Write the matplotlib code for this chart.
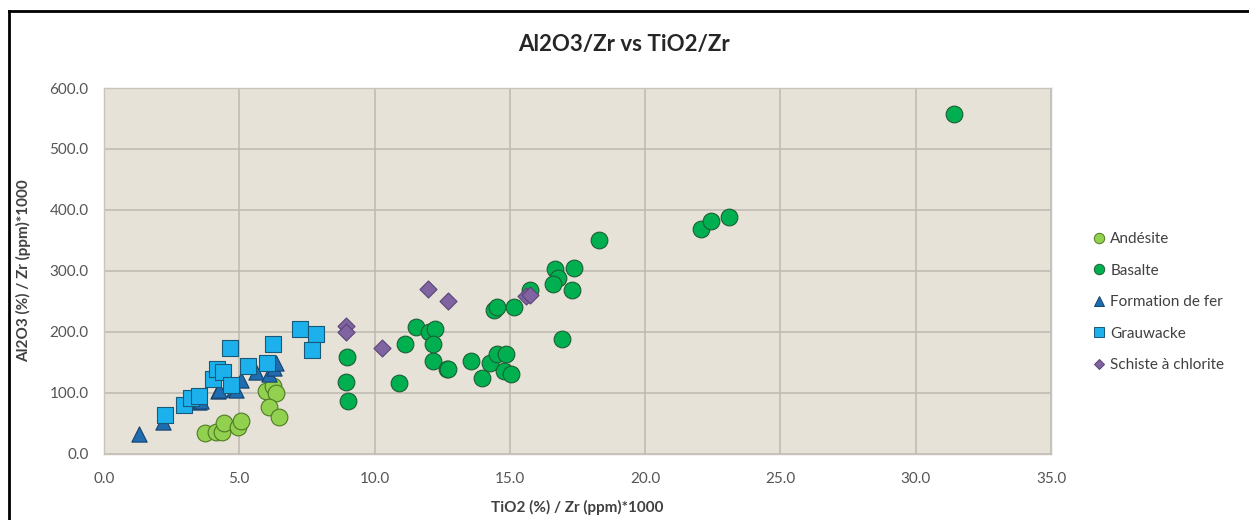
import matplotlib
matplotlib.use('Agg')
import matplotlib.pyplot as plt
from matplotlib.lines import Line2D

plt.rcParams['font.family'] = ['Lato', 'DejaVu Sans']

# Andésite
and_x = [3.75, 4.15, 4.35, 4.45, 4.97, 5.06, 5.98, 6.23, 6.35, 6.08, 6.45]
and_y = [33, 36, 36, 50, 43, 53, 103, 111, 100, 76, 60]

# Basalte
bas_x = [8.97, 8.96, 9.02, 10.9, 11.13, 11.52, 12.0, 12.23, 12.16, 12.16, 12.66,
         12.7, 13.57, 13.96, 14.25, 14.53, 14.84, 14.78, 15.03, 14.41, 14.53,
         15.17, 15.74, 16.66, 16.77, 16.59, 17.36, 17.3, 16.91, 18.28,
         22.05, 22.42, 23.1, 31.4]
bas_y = [158, 118, 86, 115, 179, 207, 199, 205, 179, 152, 139,
         138, 152, 124, 148, 163, 164, 135, 131, 236, 241,
         240, 268, 303, 288, 278, 304, 268, 188, 350,
         369, 381, 388, 558]

# Formation de fer
fer_x = [1.31, 2.17, 3.5, 3.6, 4.2, 4.25, 4.82, 4.87, 5.06, 5.62, 6.1, 6.29, 6.35]
fer_y = [32, 52, 84, 86, 102, 104, 106, 104, 120, 133, 131, 140, 148]

# Grauwacke
gra_x = [2.26, 2.97, 3.22, 3.52, 4.03, 4.16, 4.4, 4.65, 4.68, 5.33, 6.03, 6.25,
         7.25, 7.83, 7.7]
gra_y = [64, 80, 91, 95, 122, 138, 133, 173, 113, 144, 149, 180,
         204, 196, 170]

# Schiste à chlorite
sch_x = [8.94, 8.96, 10.27, 11.99, 12.71, 15.58, 15.76]
sch_y = [210, 200, 174, 270, 251, 258, 261]

fig = plt.figure(figsize=(12.49, 5.2), dpi=100)
ax = fig.add_axes([104 / 1249, 1 - 453.5 / 520, (1051 - 104) / 1249, (453.5 - 88) / 520])
ax.set_facecolor('#E6E2D7')

series = [
    ('Andésite', and_x, and_y, 'o', '#92D050', '#4E7A22', 145),
    ('Basalte', bas_x, bas_y, 'o', '#00B050', '#1D5E33', 145),
    ('Formation de fer', fer_x, fer_y, '^', '#1F6CB0', '#17426E', 120),
    ('Grauwacke', gra_x, gra_y, 's', '#1CB0EC', '#1A5878', 120),
    ('Schiste à chlorite', sch_x, sch_y, 'D', '#8064A2', '#5A4577', 75),
]

handles = []
for name, xs, ys, mk, fc, ec, s in series:
    ax.scatter(xs, ys, marker=mk, s=s, c=fc, edgecolors=ec, linewidths=0.8, zorder=3)
    handles.append(Line2D([], [], linestyle='none', marker=mk, markersize=7.5 if mk != 'D' else 5.5,
                          markerfacecolor=fc, markeredgecolor=ec, markeredgewidth=0.7, label=name))

ax.set_xlim(0, 35)
ax.set_ylim(0, 600)
ax.set_xticks(range(0, 36, 5))
ax.set_yticks(range(0, 601, 100))
ax.xaxis.set_major_formatter(matplotlib.ticker.FormatStrFormatter('%.1f'))
ax.yaxis.set_major_formatter(matplotlib.ticker.FormatStrFormatter('%.1f'))
ax.tick_params(length=0, labelsize=11, colors='#555555')
ax.tick_params(axis='x', pad=13)
ax.tick_params(axis='y', pad=11)
ax.grid(True, color='#BDB9B1', linewidth=1.1)
ax.set_axisbelow(True)
for sp in ax.spines.values():
    sp.set_color('#C8C4BC')
    sp.set_linewidth(1.0)

ax.set_xlabel('TiO2 (%) / Zr (ppm)*1000', fontsize=11, fontweight='bold', color='#404040', labelpad=10)
ax.set_ylabel('Al2O3 (%) / Zr (ppm)*1000', fontsize=11, fontweight='bold', color='#404040', labelpad=13)
fig.text(0.5, 1 - 45 / 520, 'Al2O3/Zr vs TiO2/Zr', ha='center', va='center',
         fontsize=16, fontweight='bold', color='#262626')

fig.legend(handles=handles, loc='upper left', bbox_to_anchor=(1085 / 1249, 1 - 226 / 520),
           frameon=False, fontsize=11, labelspacing=1.15, handletextpad=0.25,
           handlelength=1.0, labelcolor='#404040', borderaxespad=0)

# cadre extérieur (gauche et haut)
fig.add_artist(Line2D([9 / 1249, 9 / 1249], [0, 1 - 11 / 520], transform=fig.transFigure,
                      color='black', linewidth=2))
fig.add_artist(Line2D([9 / 1249, 1], [1 - 11 / 520, 1 - 11 / 520], transform=fig.transFigure,
                      color='black', linewidth=2))

plt.savefig('out.png', dpi=100)
